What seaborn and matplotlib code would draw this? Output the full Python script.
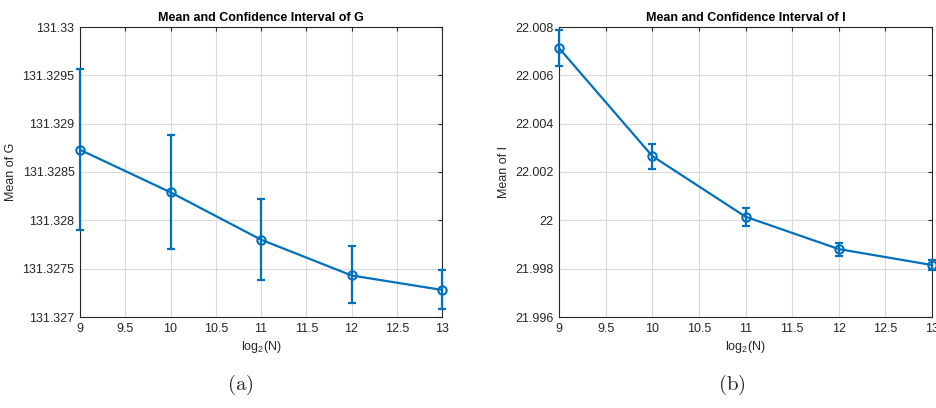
import numpy as np
import pandas as pd
import matplotlib
matplotlib.use("Agg")
import matplotlib.pyplot as plt
import seaborn as sns
from matplotlib.ticker import MultipleLocator, FuncFormatter

# ---- data ----
log2N = [9, 10, 11, 12, 13]
G_mean = [131.32873, 131.32829, 131.32780, 131.32743, 131.32728]
G_upper = [131.32957, 131.32888, 131.32822, 131.32773, 131.32749]
G_lower = [131.32790, 131.32770, 131.32738, 131.32714, 131.32708]
I_mean = [22.00713, 22.00266, 22.00015, 21.99881, 21.99815]
I_upper = [22.00788, 22.00317, 22.00053, 21.99907, 21.99836]
I_lower = [22.00640, 22.00214, 21.99978, 21.99853, 21.99794]

titles = ["Mean and Confidence Interval of G", "Mean and Confidence Interval of I"]
ylabels = ["Mean of G", "Mean of I"]
xlabel = r"log$_2$(N)"
captions = [r"$\mathrm{(a)}$", r"$\mathrm{(b)}$"]

sns.set_style("white")
plt.rcParams['font.family'] = ['Liberation Sans', 'DejaVu Sans']
plt.rcParams['mathtext.fontset'] = 'custom'
plt.rcParams['mathtext.rm'] = 'Liberation Sans'

blue = "#0072BD"
axcol = "#262626"

fig = plt.figure(figsize=(9.36, 4.08), dpi=100)
ax1 = fig.add_axes([80/936, 1-317/408, (442-80)/936, 290/408])
ax2 = fig.add_axes([559/936, 1-317/408, (932-559)/936, 290/408])

panels = [
    (ax1, G_mean, G_upper, G_lower, (131.327, 131.33), 0.0005),
    (ax2, I_mean, I_upper, I_lower, (21.996, 22.008), 0.002),
]

fs = 9
for i, (ax, m, up, lo, ylim, step) in enumerate(panels):
    df = pd.DataFrame({"x": log2N, "y": m})
    m_arr = np.array(m)
    yerr = [m_arr - np.array(lo), np.array(up) - m_arr]
    ax.errorbar(log2N, m, yerr=yerr, fmt='none', ecolor=blue, elinewidth=1.6,
                capsize=3, capthick=1.6, zorder=3, clip_on=False)
    sns.lineplot(data=df, x="x", y="y", ax=ax, color=blue, linewidth=1.6,
                 marker='o', markersize=6, markerfacecolor='none',
                 markeredgecolor=blue, markeredgewidth=1.5, zorder=4, clip_on=False)
    ax.set_xlim(9, 13)
    ax.set_ylim(*ylim)
    ax.xaxis.set_major_locator(MultipleLocator(0.5))
    ax.yaxis.set_major_locator(MultipleLocator(step))
    ax.xaxis.set_major_formatter(FuncFormatter(lambda v, p: "{:.7g}".format(round(v, 6))))
    ax.yaxis.set_major_formatter(FuncFormatter(lambda v, p: "{:.7g}".format(round(v, 6))))
    ax.grid(True, color="#dadada", linewidth=0.8)
    ax.set_axisbelow(True)
    for s in ax.spines.values():
        s.set_visible(True)
        s.set_color(axcol)
        s.set_linewidth(0.8)
    ax.tick_params(direction='in', length=3, width=0.8, colors=axcol,
                   labelsize=fs, top=True, right=True, labelcolor="#262626", pad=4)
    ax.set_title(titles[i], fontsize=fs, fontweight='bold', color='black', pad=4)
    ax.set_xlabel(xlabel, fontsize=fs, color="#262626", labelpad=3)
    ax.set_ylabel(ylabels[i], fontsize=fs, color="#262626", labelpad=4)

plt.rcParams['mathtext.fontset'] = 'cm'
fig.text(240/936, 1-385/408, captions[0], fontsize=15, ha='center', va='center',
         math_fontfamily='cm')
fig.text(732/936, 1-385/408, captions[1], fontsize=15, ha='center', va='center',
         math_fontfamily='cm')

fig.savefig("out.png", dpi=100)
